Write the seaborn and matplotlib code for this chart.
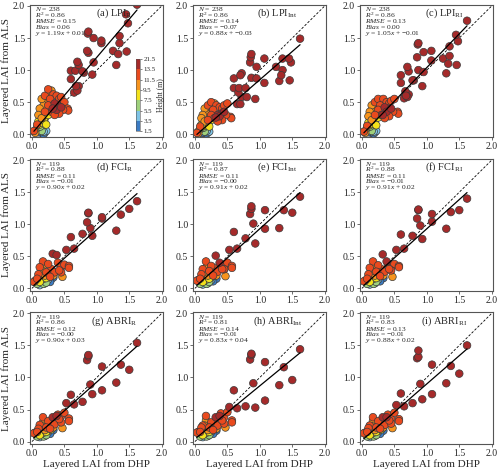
import numpy as np
import pandas as pd
import matplotlib
matplotlib.use("Agg")
import matplotlib.pyplot as plt
import matplotlib.colors as mcolors
import seaborn as sns

# ---- data ----
# row 1 (LPI), N = 238 in the paper, a subset is shown here
row1_dhp = [1.62, 1.45, 1.48, 1.35, 1.35, 1.25, 1.30, 1.46, 1.33, 1.07, 1.07, 0.87, 0.86, 0.95, 0.85,
            0.87, 0.95, 0.93, 0.70, 0.72, 0.60, 0.60, 0.78, 0.67, 0.68, 0.72, 0.65, 0.80, 0.70,
            0.20, 0.25, 0.30, 0.33, 0.38, 0.42, 0.45, 0.50, 0.55, 0.56, 0.48, 0.40, 0.35, 0.38, 0.32,
            0.28, 0.22, 0.18, 0.15, 0.25, 0.30, 0.42, 0.45, 0.28, 0.12, 0.10, 0.20, 0.35, 0.15, 0.08,
            0.10, 0.12, 0.15, 0.18, 0.20, 0.08, 0.12, 0.15, 0.18, 0.20, 0.22, 0.10, 0.15, 0.18, 0.05,
            0.13, 0.25, 0.22, 0.05, 0.03]
row1_height = [21, 20, 19, 18, 17, 16, 15, 16, 17, 19, 15, 20, 19, 18, 16, 15, 16, 15, 17, 16, 15, 14,
               16, 15, 15, 14, 14, 15, 14,
               12, 12, 10, 12, 12, 12, 12, 12, 12, 12, 12, 15, 15, 15, 15, 12, 10, 10, 10, 12, 12, 12,
               15, 10, 10, 10, 12, 12, 10, 12,
               8, 8, 9, 9, 8, 7, 6, 6, 5, 4, 4, 3, 2, 2, 8, 7, 9, 9, 10, 12]
lpi_r = [2.02, 1.87, 1.73, 1.53, 1.42, 1.30, 1.08, 1.29, 1.25, 1.46, 1.42, 1.60, 1.57, 1.50, 1.30,
         1.27, 1.12, 0.93, 1.13, 1.08, 0.99, 0.86, 0.98, 0.99, 0.75, 0.75, 0.65, 0.96, 0.68,
         0.60, 0.70, 0.68, 0.62, 0.60, 0.55, 0.58, 0.50, 0.40, 0.37, 0.38, 0.45, 0.48, 0.38, 0.40,
         0.55, 0.50, 0.45, 0.55, 0.45, 0.35, 0.32, 0.42, 0.62, 0.40, 0.30, 0.35, 0.30, 0.25, 0.15,
         0.20, 0.15, 0.18, 0.22, 0.25, 0.10, 0.08, 0.05, 0.04, 0.03, 0.05, 0.03, 0.02, 0.00, 0.05,
         0.12, 0.30, 0.15, 0.02, 0.05]
lpi_int = [1.49, 1.18, 1.12, 1.18, 1.00, 1.05, 0.83, 0.84, 0.92, 1.18, 0.80, 1.25, 1.20, 1.05, 1.12,
           0.88, 0.87, 0.55, 0.92, 0.95, 0.87, 0.72, 0.72, 0.65, 0.72, 0.58, 0.47, 0.58, 0.47,
           0.45, 0.50, 0.48, 0.45, 0.42, 0.40, 0.45, 0.48, 0.27, 0.25, 0.30, 0.32, 0.30, 0.28, 0.26,
           0.38, 0.35, 0.32, 0.40, 0.30, 0.25, 0.22, 0.35, 0.42, 0.30, 0.25, 0.22, 0.20, 0.20, 0.12,
           0.15, 0.12, 0.14, 0.16, 0.18, 0.08, 0.06, 0.04, 0.05, 0.03, 0.04, 0.02, 0.02, 0.01, 0.04,
           0.10, 0.22, 0.12, 0.01, 0.02]
lpi_ri = [1.77, 1.55, 1.45, 1.37, 1.22, 1.18, 0.95, 1.08, 1.10, 1.30, 1.15, 1.42, 1.40, 1.28, 1.20,
          1.00, 0.97, 0.75, 1.05, 0.98, 0.92, 0.80, 0.84, 0.67, 0.60, 0.62, 0.56, 0.84, 0.58,
          0.50, 0.55, 0.52, 0.55, 0.50, 0.48, 0.52, 0.55, 0.35, 0.32, 0.35, 0.40, 0.42, 0.35, 0.30,
          0.45, 0.42, 0.40, 0.45, 0.38, 0.30, 0.28, 0.40, 0.48, 0.35, 0.28, 0.30, 0.25, 0.22, 0.13,
          0.18, 0.14, 0.16, 0.20, 0.22, 0.10, 0.07, 0.05, 0.04, 0.03, 0.05, 0.03, 0.02, 0.01, 0.05,
          0.12, 0.26, 0.14, 0.02, 0.04]

# rows 2 and 3 (FCI, ABRI), N = 119
row23_dhp = [1.62, 1.50, 1.37, 1.30, 1.08, 1.08, 0.87, 0.87, 0.85, 0.90, 0.93, 0.78, 0.60, 0.65, 0.53,
             0.32, 0.38, 0.17, 0.12, 0.40, 0.45, 0.50, 0.57, 0.57, 0.42, 0.30, 0.25, 0.22, 0.47, 0.17,
             0.05, 0.03, 0.10, 0.27, 0.20, 0.35, 0.15, 0.08, 0.28, 0.33, 0.45,
             0.10, 0.15, 0.20, 0.25, 0.30, 0.33, 0.12, 0.18, 0.22, 0.14, 0.18, 0.25, 0.12, 0.20, 0.28,
             0.08, 0.22, 0.30]
row23_height = [20, 19, 18, 17, 18, 16, 19, 18, 17, 16, 15, 16, 15, 15, 14,
                15, 15, 12, 12, 12, 12, 12, 12, 12, 13, 12, 12, 12, 10, 10,
                12, 12, 12, 10, 10, 12, 10, 12, 12, 10, 12,
                3, 3, 3, 4, 2, 2, 5, 6, 7, 8, 8, 9, 9, 2, 2, 7, 9, 9]
fci_r = [1.36, 1.24, 1.15, 0.90, 1.11, 1.09, 1.18, 1.17, 1.03, 0.94, 0.82, 0.85, 0.80, 0.62, 0.60,
         0.54, 0.52, 0.42, 0.33, 0.40, 0.33, 0.37, 0.35, 0.32, 0.28, 0.30, 0.38, 0.25, 0.18, 0.35,
         0.12, 0.10, 0.22, 0.25, 0.20, 0.25, 0.28, 0.15, 0.18, 0.20, 0.25,
         0.08, 0.10, 0.12, 0.14, 0.15, 0.17, 0.05, 0.07, 0.09, 0.13, 0.15, 0.18, 0.10, 0.08, 0.10,
         0.07, 0.16, 0.20]
fci_int = [1.43, 1.18, 1.22, 0.94, 1.22, 0.93, 1.28, 1.24, 1.16, 1.01, 0.70, 0.78, 0.88, 0.62, 0.60,
           0.51, 0.40, 0.42, 0.30, 0.36, 0.30, 0.40, 0.35, 0.32, 0.30, 0.32, 0.35, 0.27, 0.19, 0.32,
           0.13, 0.12, 0.22, 0.25, 0.20, 0.26, 0.26, 0.15, 0.20, 0.20, 0.30,
           0.08, 0.10, 0.12, 0.13, 0.15, 0.15, 0.06, 0.07, 0.10, 0.12, 0.14, 0.17, 0.10, 0.08, 0.11,
           0.07, 0.15, 0.20]
fci_ri = [1.40, 1.22, 1.19, 0.93, 1.16, 1.04, 1.23, 1.22, 1.09, 0.98, 0.77, 0.82, 0.84, 0.62, 0.60,
          0.53, 0.42, 0.42, 0.32, 0.38, 0.32, 0.38, 0.35, 0.33, 0.30, 0.30, 0.36, 0.26, 0.18, 0.34,
          0.12, 0.11, 0.22, 0.25, 0.20, 0.26, 0.27, 0.15, 0.19, 0.20, 0.28,
          0.08, 0.10, 0.12, 0.14, 0.15, 0.16, 0.06, 0.07, 0.10, 0.13, 0.15, 0.18, 0.10, 0.08, 0.11,
          0.07, 0.16, 0.20]
abri_r = [1.54, 1.12, 1.20, 0.92, 1.17, 0.80, 1.35, 1.33, 1.27, 0.89, 0.74, 0.62, 0.73, 0.58, 0.60,
          0.38, 0.40, 0.38, 0.26, 0.42, 0.40, 0.45, 0.36, 0.32, 0.35, 0.30, 0.32, 0.22, 0.21, 0.30,
          0.14, 0.13, 0.20, 0.28, 0.18, 0.27, 0.24, 0.15, 0.20, 0.22, 0.30,
          0.09, 0.11, 0.13, 0.15, 0.16, 0.18, 0.07, 0.08, 0.10, 0.12, 0.14, 0.17, 0.10, 0.09, 0.12,
          0.08, 0.15, 0.19]
abri_int = [1.44, 0.96, 1.16, 0.88, 1.24, 0.64, 1.37, 1.35, 1.28, 0.91, 0.53, 0.55, 0.80, 0.52, 0.54,
            0.38, 0.40, 0.40, 0.25, 0.44, 0.38, 0.46, 0.33, 0.30, 0.33, 0.28, 0.30, 0.22, 0.22, 0.33,
            0.15, 0.14, 0.22, 0.26, 0.18, 0.25, 0.25, 0.15, 0.18, 0.20, 0.28,
            0.09, 0.11, 0.13, 0.15, 0.16, 0.17, 0.07, 0.08, 0.10, 0.12, 0.14, 0.17, 0.10, 0.09, 0.12,
            0.08, 0.15, 0.20]
abri_ri = [1.50, 1.06, 1.18, 0.91, 1.20, 0.74, 1.42, 1.32, 1.30, 0.90, 0.66, 0.60, 0.75, 0.55, 0.57,
           0.38, 0.38, 0.38, 0.25, 0.42, 0.35, 0.45, 0.35, 0.32, 0.33, 0.30, 0.32, 0.22, 0.21, 0.32,
           0.14, 0.13, 0.21, 0.27, 0.18, 0.26, 0.24, 0.15, 0.20, 0.22, 0.28,
           0.09, 0.11, 0.13, 0.15, 0.16, 0.17, 0.07, 0.08, 0.10, 0.12, 0.14, 0.17, 0.10, 0.09, 0.12,
           0.08, 0.15, 0.19]

panel_names = ["(a) LPI$_{\\mathrm{R}}$", "(b) LPI$_{\\mathrm{Int}}$", "(c) LPI$_{\\mathrm{RI}}$",
               "(d) FCI$_{\\mathrm{R}}$", "(e) FCI$_{\\mathrm{Int}}$", "(f) FCI$_{\\mathrm{RI}}$",
               "(g) ABRI$_{\\mathrm{R}}$", "(h) ABRI$_{\\mathrm{Int}}$", "(i) ABRI$_{\\mathrm{RI}}$"]
n_obs = [238, 238, 238, 119, 119, 119, 119, 119, 119]
r2 = ["0.86", "0.86", "0.86", "0.88", "0.87", "0.88", "0.86", "0.81", "0.83"]
rmse = ["0.15", "0.14", "0.13", "0.11", "0.11", "0.11", "0.12", "0.14", "0.13"]
bias = ["0.06", "\u22120.07", "0.00", "\u22120.01", "\u22120.00", "\u22120.01", "\u22120.00", "\u22120.01", "\u22120.01"]
slope = [1.19, 0.88, 1.05, 0.90, 0.91, 0.91, 0.90, 0.83, 0.88]
intercept = [0.01, -0.03, -0.01, 0.02, 0.02, 0.02, 0.03, 0.04, 0.02]

height_bounds = [1.5, 3.5, 5.5, 7.5, 9.5, 11.5, 13.5, 21.5]
height_colors = ["#3b7cc4", "#7fc4e6", "#9fd17c", "#f3e21b", "#f7941d", "#e94a1e", "#a52a2a"]

# ---- style ----
sns.set_style("ticks")
plt.rcParams["font.family"] = ["Liberation Serif", "DejaVu Serif"]
plt.rcParams["mathtext.fontset"] = "custom"
plt.rcParams["mathtext.rm"] = "Liberation Serif"
plt.rcParams["mathtext.it"] = "Liberation Serif:italic"
plt.rcParams["axes.edgecolor"] = "#555555"
plt.rcParams["axes.linewidth"] = 0.8

cmap = mcolors.ListedColormap(height_colors)
norm = mcolors.BoundaryNorm(height_bounds, cmap.N)

fig = plt.figure(figsize=(5.0, 4.7), dpi=100)
lefts = [0.060, 0.386, 0.720]
bottoms = [0.709, 0.381, 0.055]
w, h = 0.266, 0.281

als_values = [lpi_r, lpi_int, lpi_ri, fci_r, fci_int, fci_ri, abri_r, abri_int, abri_ri]

for k in range(9):
    row, col = divmod(k, 3)
    ax = fig.add_axes([lefts[col], bottoms[row], w, h])
    if row == 0:
        dhp, hgt = row1_dhp, row1_height
    else:
        dhp, hgt = row23_dhp, row23_height
    df = pd.DataFrame({"dhp": dhp, "als": als_values[k], "height": hgt})
    df = df.sort_values("height", kind="stable")

    # 1:1 line
    ax.plot([0, 2], [0, 2], ls="--", color="k", lw=0.6, dashes=(3, 2), zorder=1)
    sns.scatterplot(data=df, x="dhp", y="als", hue="height", palette=cmap, hue_norm=norm,
                    s=30, edgecolor="#3a3a3a", linewidth=0.5, legend=False, ax=ax, zorder=2)
    # fitted line
    xs = np.array([df["dhp"].min(), df["dhp"].max()])
    ax.plot(xs, slope[k] * xs + intercept[k], color="k", lw=0.9, zorder=3)

    ax.set_xlim(-0.03, 2.02)
    ax.set_ylim(-0.04, 2.02)
    ticks = [0.0, 0.5, 1.0, 1.5, 2.0]
    ax.set_xticks(ticks)
    ax.set_yticks(ticks)
    ax.tick_params(labelsize=7, length=2, width=0.6, pad=1.5, color="#555555")
    ax.set_xlabel("Layered LAI from DHP" if row == 2 else "", fontsize=8, labelpad=1)
    ax.set_ylabel("Layered LAI from ALS" if col == 0 else "", fontsize=8, labelpad=1)

    icpt = f"{intercept[k]:.2f}" if intercept[k] >= 0 else f"\u2212{abs(intercept[k]):.2f}"
    lines = [f"$N$ = {n_obs[k]}",
             f"$R^2$ = {r2[k]}",
             f"$RMSE$ = {rmse[k]}",
             f"$Bias$ = {bias[k]}",
             f"$y$ = {slope[k]:.2f}$x$ + {icpt}"]
    ax.text(0.035, 0.995, "\n".join(lines), transform=ax.transAxes, fontsize=5.4,
            va="top", ha="left", linespacing=0.6)
    ax.text(0.635, 0.985, panel_names[k], transform=ax.transAxes, fontsize=7.5,
            va="top", ha="center")

    if k == 0:
        cax = ax.inset_axes([0.80, 0.04, 0.025, 0.55])
        sm = plt.cm.ScalarMappable(norm=norm, cmap=cmap)
        cb = fig.colorbar(sm, cax=cax, ticks=height_bounds)
        cb.ax.set_yticklabels([f"{b:.1f}" for b in height_bounds])
        cb.ax.tick_params(labelsize=5, length=1.5, width=0.4, pad=1)
        cb.outline.set_linewidth(0.4)
        cb.set_label("Height (m)", fontsize=5.5, labelpad=1)

fig.savefig("out.png", dpi=100)
